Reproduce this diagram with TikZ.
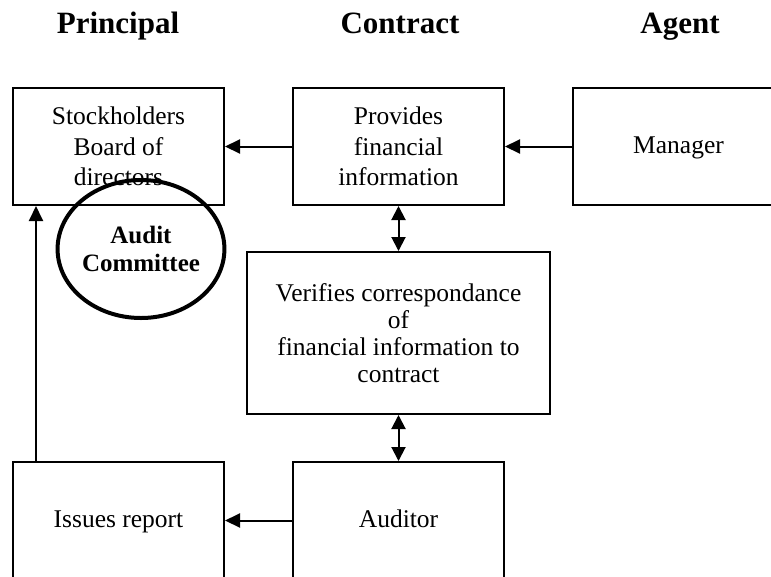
\documentclass[tikz,border=0pt]{standalone}
\usepackage{fontspec}
\setmainfont{Liberation Serif}
\usetikzlibrary{arrows.meta,shapes.geometric}
\begin{document}
\begin{tikzpicture}[x=1pt,y=-1pt,
  box/.style={draw,line width=2pt,rectangle,inner sep=0pt,align=center,
    font=\fontsize{25.5}{30.5}\selectfont},
  oneline/.style={text height=17pt,text depth=4pt},
  hdr/.style={anchor=base,font=\fontsize{31}{36}\selectfont\bfseries},
  arr/.style={line width=2pt,-{Triangle[length=15pt,width=14pt]}},
  darr/.style={line width=2pt,{Triangle[length=14pt,width=14pt]}-{Triangle[length=14pt,width=14pt]}}]
\clip (0,0) rectangle (771,576);
\fill[white] (0,0) rectangle (771,576);
\node[hdr] (hp) at (118,33) {Principal};
\node[hdr] (hc) at (400,33) {Contract};
\node[hdr] (ha) at (680,33) {Agent};
\node[box,minimum width=211pt,minimum height=117pt] (b1) at (118.5,146.5) {Stockholders\\Board of\\directors};
\node[box,minimum width=211pt,minimum height=117pt] (b2) at (398.5,146.5) {Provides\\financial\\information};
\node[box,oneline,minimum width=211pt,minimum height=117pt] (b3) at (678.5,146.5) {Manager};
\node[box,minimum width=303pt,minimum height=162pt,font=\fontsize{25.5}{27}\selectfont] (b4) at (398.5,333) {Verifies correspondance\\of\\financial information to\\contract};
\node[box,oneline,minimum width=211pt,minimum height=117pt] (b5) at (118.5,520.5) {Issues report};
\node[box,oneline,minimum width=211pt,minimum height=117pt] (b6) at (398.5,520.5) {Auditor};
\node[draw,ellipse,line width=4pt,minimum width=166pt,minimum height=138pt,inner sep=0pt,align=center,
  font=\fontsize{25}{28}\selectfont\bfseries] (ac) at (141,249) {Audit\\Committee};
\draw[arr] (b2.west) -- (b1.east);
\draw[arr] (b3.west) -- (b2.east);
\draw[darr] (b2.south) -- (b4.north);
\draw[darr] (b4.south) -- (b6.north);
\draw[arr] (b6.west) -- (b5.east);
\draw[arr] ([xshift=24pt]b5.north west) -- ([xshift=24pt]b1.south west);
\end{tikzpicture}
\end{document}
